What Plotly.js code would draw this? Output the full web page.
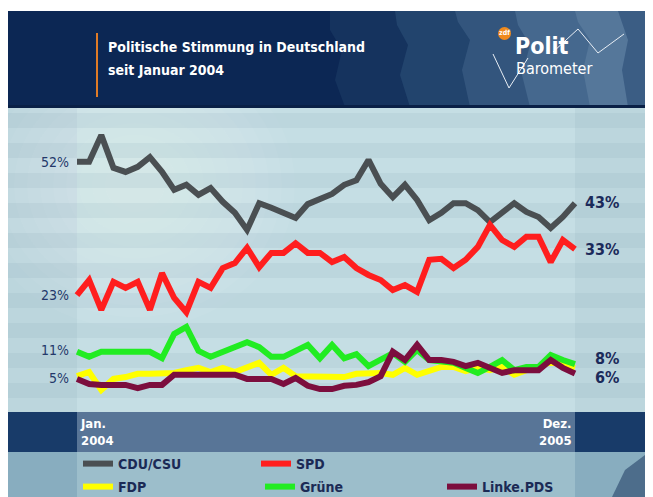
<!DOCTYPE html>
<html>
<head>
<meta charset="utf-8">
<script src="https://cdn.plot.ly/plotly-3.0.1.min.js"></script>
<style>html,body{margin:0;padding:0;background:#fff;}#chart{width:653px;height:497px;}</style>
</head>
<body>
<div id="chart"></div>
<script>
// ---- data (survey index 0 = Jan. 2004 ... last = Dez. 2005), values in % ----
const seriesNames = ["CDU/CSU", "SPD", "FDP", "Grüne", "Linke.PDS"];
const cdu   = [52, 52, 57.8, 50.7, 49.8, 50.9, 53, 49.8, 45.9, 47, 44.8, 46.3, 43.3, 40.9, 37.2, 43, 42, 40.9, 39.8, 42.8, 43.9, 45, 47, 48, 52.4, 47.2, 44.3, 47, 43.7, 39.3, 40.9, 43, 43, 41.5, 38.9, 41.1, 43, 41.1, 40, 37.6, 40, 43];
const spd   = [23, 26.3, 19.8, 25.9, 24.6, 25.9, 19.8, 27.8, 22.4, 19.3, 25.9, 24.6, 28.9, 30, 33.3, 29.1, 32.2, 32.2, 34.3, 32.2, 32.2, 30.2, 31.3, 28.9, 27.4, 26.3, 24.1, 25.2, 23.7, 30.7, 30.9, 28.9, 30.7, 33.5, 38.3, 35, 33.5, 35.7, 35.7, 30.2, 35, 33];
const fdp   = [5.4, 6.3, 2.4, 4.8, 5.2, 5.9, 5.9, 6.1, 6.1, 6.7, 7.2, 6.3, 7.2, 6.3, 7.4, 8.3, 5.7, 7.2, 5.4, 5.4, 5.4, 5.2, 5.2, 5.9, 6.1, 6.1, 5.7, 7.2, 5.7, 6.7, 7.4, 7.4, 6.5, 7.2, 6.7, 7.4, 5.7, 6.7, 7.4, 8.5, 7.8, 7.2];
const gruene= [10.7, 9.6, 10.7, 10.7, 10.7, 10.7, 10.7, 9.3, 14.6, 16.1, 10.9, 9.6, 10.7, 11.7, 12.8, 11.7, 9.6, 9.6, 10.9, 12.2, 9.3, 12.2, 9.3, 10.2, 7.6, 8.9, 10.4, 8.5, 11.1, 8.9, 8.7, 8.3, 7.2, 6.1, 7.4, 8.9, 6.7, 7.4, 7.4, 10, 8.9, 8];
const linke = [4.8, 3.7, 3.5, 3.5, 3.5, 2.8, 3.5, 3.5, 5.7, 5.7, 5.7, 5.7, 5.7, 5.7, 4.8, 4.8, 4.8, 3.7, 5, 3.3, 2.6, 2.6, 3.3, 3.5, 4.1, 5.4, 10.7, 8.9, 12.2, 8.9, 8.9, 8.5, 7.6, 8.3, 7.2, 6.1, 6.7, 6.7, 6.7, 8.9, 7.2, 6];
const yTickVals = [5, 11, 23, 52];
const yTickText = ["5%", "11%", "23%", "52%"];
const xStartLabel = "Jan.<br>2004";
const xEndLabel = "Dez.<br>2005";
const titleLine1 = "Politische Stimmung in Deutschland";
const titleLine2 = "seit Januar 2004";

// ---- styling ----
const W = 653, H = 497;
const COND = "DejaVu Sans Condensed, Liberation Sans, sans-serif";
const colors = ["#4a4f52", "#ff1e1e", "#ffff00", "#22ec22", "#7c0e3e"];
const allSeries = [cdu, spd, fdp, gruene, linke];
const legendOf = ["legend", "legend", "legend2", "legend2", "legend2"];
const xIdx = cdu.map((_, i) => i);
const lastI = xIdx.length - 1;

// pixel helpers for decorative shapes (margins are 0, so paper == canvas)
const P = x => x / W, Q = y => 1 - y / H;
function rect(x0, y0, x1, y1, fill, extra) {
  return Object.assign({type: "rect", xref: "paper", yref: "paper", x0: P(x0), x1: P(x1), y0: Q(y1), y1: Q(y0),
    fillcolor: fill, line: {width: 0}, layer: "below"}, extra || {});
}
function pathPx(pts, fill, lineColor, lw) {
  const d = pts.map((p, i) => (i ? "L" : "M") + P(p[0]).toFixed(5) + "," + Q(p[1]).toFixed(5)).join(" ") + (fill ? " Z" : "");
  return {type: "path", xref: "paper", yref: "paper", path: d, fillcolor: fill || "rgba(0,0,0,0)",
    line: {width: lw || 0, color: lineColor || "rgba(0,0,0,0)"}, layer: "below"};
}

const shapes = [];
// plot area
shapes.push(rect(8, 107, 645, 412, "#bcd6dd"));
shapes.push(rect(77, 107, 575, 412, "#c5dee4"));
// soft glow top left
for (let r = 160; r >= 30; r -= 13) {
  shapes.push({type: "circle", xref: "paper", yref: "paper", x0: P(135 - r), x1: P(135 + r), y0: Q(185 + r * 0.9), y1: Q(185 - r * 0.9),
    fillcolor: "rgba(255,255,255,0.04)", line: {width: 0}, layer: "below"});
}
// stripes
for (let y = 113; y < 412; y += 30) shapes.push(rect(8, y, 645, Math.min(y + 15, 412), "rgba(120,160,175,0.12)"));
// white margins (cover glow overflow)
shapes.push(rect(0, 0, 8, 497, "#ffffff"));
shapes.push(rect(0, 0, 653, 11, "#ffffff"));
// header
shapes.push(rect(8, 11, 645, 107, "#0c2754"));
shapes.push(pathPx([[330,11],[645,11],[645,107],[345,107],[335,80],[342,50],[330,30]], "#15335e"));
shapes.push(pathPx([[395,11],[645,11],[645,107],[410,107],[400,75],[408,45],[397,25]], "#22446d"));
shapes.push(pathPx([[455,11],[645,11],[645,107],[470,107],[462,70],[470,40],[458,22]], "#33557d"));
shapes.push(pathPx([[515,11],[645,11],[645,107],[530,107],[522,75],[530,45],[518,25]], "#45688e"));
shapes.push(pathPx([[575,11],[645,11],[645,107],[590,107],[583,70],[590,40],[578,22]], "#55779a"));
shapes.push(pathPx([[618,11],[645,11],[645,107],[628,107],[622,70],[628,40]], "#3b5d84"));
shapes.push(rect(8, 105, 645, 108, "#0a2046"));
// orange accent line
shapes.push({type: "line", xref: "paper", yref: "paper", x0: P(97), x1: P(97), y0: Q(97), y1: Q(33),
  line: {color: "#e07b26", width: 2}, layer: "below"});
// logo zigzag
shapes.push(pathPx([[493,54],[509,88],[528,58]], null, "#e8eef5", 1));
shapes.push(pathPx([[553,52],[578,29],[598,53],[624,34]], null, "#e8eef5", 1));
shapes.push({type: "circle", xref: "paper", yref: "paper", x0: P(498), x1: P(511), y0: Q(40), y1: Q(27),
  fillcolor: "#f08a1c", line: {width: 0}, layer: "below"});
// bottom axis band
shapes.push(rect(8, 412, 645, 452, "#183b69"));
shapes.push(rect(77, 412, 575, 452, "#587597"));
// legend area
shapes.push(rect(8, 452, 645, 497, "#88adbf"));
shapes.push(rect(77, 452, 575, 497, "#9cbecb"));
shapes.push(pathPx([[612,497],[625,470],[645,455],[645,497]], "#4d6d8b"));

const traces = allSeries.map((vals, k) => ({
  type: "scatter", mode: "lines", x: xIdx, y: vals, name: seriesNames[k], legend: legendOf[k],
  line: {color: colors[k], width: 6}, hoverinfo: "skip"
}));

// end labels (value of last point)
const endLabelSeries = [0, 1, 3, 4];
const endShift = {0: 1, 1: 0, 3: 6, 4: -4};
const annotations = endLabelSeries.map(k => ({
  x: lastI, y: allSeries[k][lastI], xref: "x", yref: "y", xanchor: "right", yanchor: "middle",
  xshift: 45, yshift: endShift[k], showarrow: false, borderpad: 0, text: Math.round(allSeries[k][lastI]) + "%",
  font: {family: COND, size: 16, color: "#1b2a5a", weight: "bold"}
}));
annotations.push({x: 0, xref: "x", y: Q(432), yref: "paper", xanchor: "left", yanchor: "middle", xshift: 1,
  showarrow: false, align: "left", text: xStartLabel, font: {family: COND, size: 13, color: "#ffffff", weight: "bold"}});
annotations.push({x: lastI, xref: "x", y: Q(432), yref: "paper", xanchor: "right", yanchor: "middle", xshift: -1,
  showarrow: false, align: "right", text: xEndLabel, font: {family: COND, size: 13, color: "#ffffff", weight: "bold"}});
annotations.push({x: P(106), xref: "paper", y: Q(47), yref: "paper", xanchor: "left", yanchor: "middle", showarrow: false,
  text: titleLine1, font: {family: COND, size: 14, color: "#ffffff", weight: "bold"}});
annotations.push({x: P(106), xref: "paper", y: Q(70), yref: "paper", xanchor: "left", yanchor: "middle", showarrow: false,
  text: titleLine2, font: {family: COND, size: 14, color: "#ffffff", weight: "bold"}});
// logo text
annotations.push({x: P(513), xref: "paper", y: Q(46), yref: "paper", xanchor: "left", yanchor: "middle", showarrow: false,
  text: "Polit", font: {family: COND, size: 23, color: "#ffffff", weight: "bold"}});
annotations.push({x: P(514), xref: "paper", y: Q(68), yref: "paper", xanchor: "left", yanchor: "middle", showarrow: false,
  text: "Barometer", font: {family: COND, size: 16, color: "#ffffff"}});
annotations.push({x: P(504.5), xref: "paper", y: Q(33.5), yref: "paper", xanchor: "center", yanchor: "middle", showarrow: false,
  text: "zdf", font: {family: COND, size: 7, color: "#ffffff", weight: "bold"}});

const step = (575 - 77) / lastI;
const legendFont = {family: COND, size: 14, color: "#1b2a55", weight: "bold"};
const layout = {
  width: W, height: H, margin: {l: 0, r: 0, t: 0, b: 0, pad: 0, autoexpand: false},
  paper_bgcolor: "#ffffff", plot_bgcolor: "rgba(0,0,0,0)",
  xaxis: {range: [-77 / step, (W - 77) / step], visible: false, fixedrange: true},
  yaxis: {range: [-(H - 401) / 4.6, 401 / 4.6], anchor: "free", position: 69 / W, side: "left",
    tickvals: yTickVals, ticktext: yTickText, ticks: "", showgrid: false, zeroline: false, showline: false,
    tickfont: {family: COND, size: 14, color: "#24386a"}, fixedrange: true},
  showlegend: true,
  legend: {orientation: "h", x: P(78), xanchor: "left", y: Q(464), yanchor: "middle", bgcolor: "rgba(0,0,0,0)",
    entrywidth: 133, entrywidthmode: "pixels", itemwidth: 30, borderwidth: 0, font: legendFont},
  legend2: {orientation: "h", x: P(78), xanchor: "left", y: Q(487), yanchor: "middle", bgcolor: "rgba(0,0,0,0)",
    entrywidth: 137, entrywidthmode: "pixels", itemwidth: 30, borderwidth: 0, font: legendFont},
  shapes: shapes, annotations: annotations
};
Plotly.newPlot("chart", traces, layout, {displayModeBar: false, staticPlot: true});
</script>
</body>
</html>
